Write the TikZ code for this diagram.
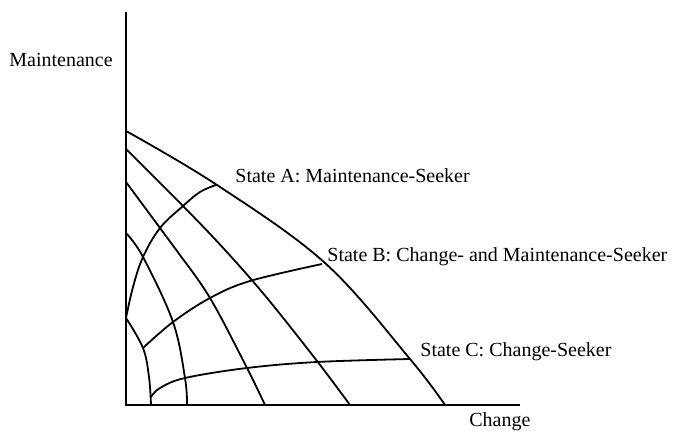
\documentclass[tikz,border=0pt]{standalone}
\usepackage{fontspec}
\setmainfont{Liberation Serif}
\begin{document}
\begin{tikzpicture}[x=0.5pt,y=-0.5pt,
  axisline/.style={line width=1.2pt},
  curve/.style={line width=0.9pt, smooth, tension=0.6},
  lbl/.style={anchor=base west, inner sep=0pt, font=\fontsize{10}{12}\selectfont}]
\useasboundingbox (0,0) rectangle (685,432);
% axes
\coordinate (top) at (126,12);
\coordinate (orig) at (126,405);
\coordinate (right) at (520,405);
\draw[axisline] (top) -- (orig) -- (right);
% frontier curves
\draw[curve] plot coordinates {(126,131) (217,185) (325,263) (410,359) (445,405)};
\draw[curve] plot coordinates {(126,149) (183,206) (225,250) (267,298) (317,361) (350,405)};
\draw[curve] plot coordinates {(126,182) (160,228) (177,251) (210,298) (247,368) (265,405)};
\draw[curve] plot coordinates {(126,233) (143,257) (173,322) (185,378) (187,405)};
\draw[curve] plot coordinates {(126,318) (143,348) (149,377) (151,405)};
% transverse curves
\draw[curve] plot coordinates {(126,318) (133,287) (143,257) (160,228) (183,206) (200,192) (216,185)};
\draw[curve] plot coordinates {(143,348) (173,322) (210,298) (250,281) (322,264)};
\draw[curve] plot coordinates {(151,397) (160,388) (185,378) (247,368) (317,362) (410,359)};
% labels
\node[lbl] (ylab) at (9,67) {Maintenance};
\node[lbl] (xlab) at (469,426) {Change};
\node[lbl] (sA) at (235,183) {State A: Maintenance-Seeker};
\node[lbl] (sB) at (327,262) {State B: Change- and Maintenance-Seeker};
\node[lbl] (sC) at (420,357) {State C: Change-Seeker};
\end{tikzpicture}
\end{document}
